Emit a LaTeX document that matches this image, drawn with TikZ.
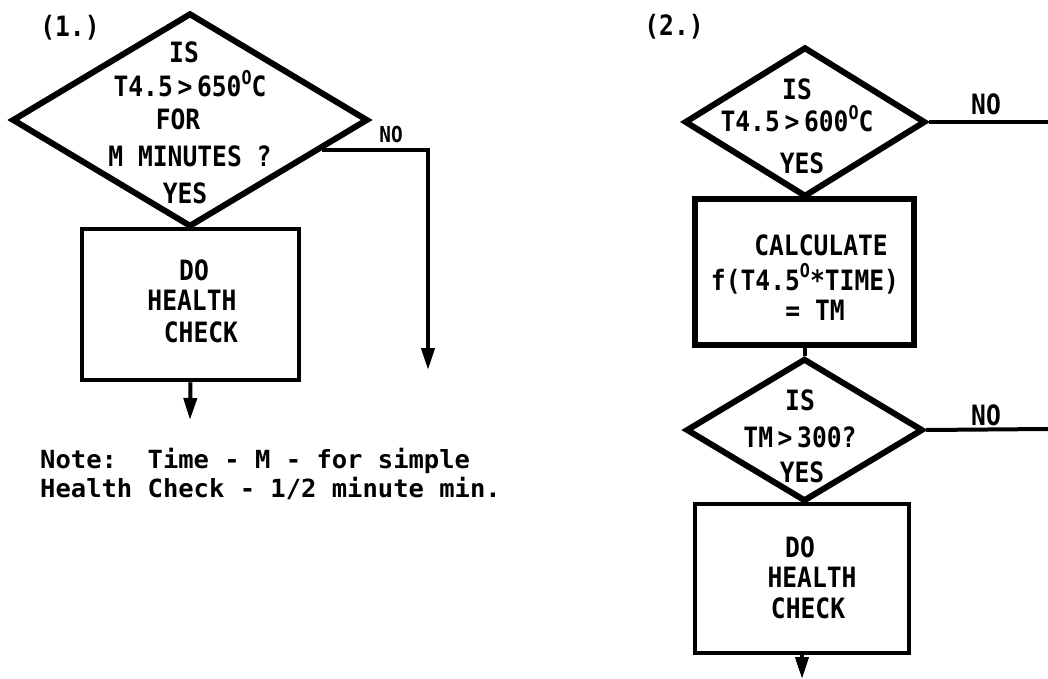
\documentclass[tikz,border=0pt]{standalone}
\usepackage{fontspec}
\newfontfamily\twf[FakeStretch=0.88]{DejaVu Sans Mono Bold}
\newfontfamily\twn[FakeStretch=1.02]{DejaVu Sans Mono Bold}
\usetikzlibrary{shapes.geometric,arrows.meta,calc}
\newcommand{\dgr}{\raisebox{0.45em}{\fontsize{19}{19}\selectfont O}}
\tikzset{
  dia/.style={draw, shape=diamond, inner sep=0pt, line width=6pt},
  box/.style={draw, rectangle, inner sep=0pt, line width=4.5pt},
  lbl/.style={font=\twf\fontsize{28}{30}\selectfont, inner sep=0pt, anchor=base},
  nlbl/.style={font=\twn\fontsize{25}{27}\selectfont, inner sep=0pt, anchor=base west},
  conn/.style={line width=4pt},
  arr/.style={conn, -{Triangle[length=22pt,width=13pt]}}
}
\begin{document}
\begin{tikzpicture}[x=1pt,y=-1pt]
\useasboundingbox (0,0) rectangle (1048,679);

% ---------- (1.) ----------
\node[lbl] (t1) at (70,37) {(1.)};
\node[dia, minimum width=356pt, minimum height=214pt] (d1) at (190,120) {};
\node[lbl] (d1a) at (184,63) {IS};
\node[lbl] (d1b) at (190,97) {T4.5\,>\,650\dgr C};
\node[lbl] (d1c) at (178,130) {FOR};
\node[lbl] (d1d) at (190,167) {M MINUTES ?};
\node[lbl] (d1e) at (185,203) {YES};
\node[lbl, font=\twf\fontsize{22}{24}\selectfont] (no1) at (391,143) {NO};

\node[box, minimum width=217pt, minimum height=151pt] (b1) at (190.5,304.5) {};
\node[lbl] (b1a) at (194,280) {DO};
\node[lbl] (b1b) at (192,310) {HEALTH};
\node[lbl] (b1c) at (201,342) {CHECK};

\coordinate (n1) at (428,370);
\coordinate (o1) at (190,420);
\draw[arr] ($(d1.east)!0.27!(d1.south)$) -| (n1);
\draw[arr] (b1.south) -- (o1);

\node[nlbl] (note1) at (40,468) {Note:\ \ Time - M - for simple};
\node[nlbl] (note2) at (40,497) {Health Check - 1/2 minute min.};

% ---------- (2.) ----------
\node[lbl] (t2) at (674,36) {(2.)};
\node[dia, minimum width=241pt, minimum height=150pt] (d2) at (805,122) {};
\node[lbl] (d2a) at (797,100) {IS};
\node[lbl] (d2b) at (797,132) {T4.5\,>\,600\dgr C};
\node[lbl] (d2c) at (802,173) {YES};
\node[lbl] (no2) at (986,115) {NO};
\coordinate (x2) at (1048,122);
\draw[conn] (d2.east) -- (x2);

\node[box, line width=6pt, minimum width=219pt, minimum height=146pt] (b2) at (804.5,272) {};
\node[lbl] (b2a) at (821,255) {CALCULATE};
\node[lbl] (b2b) at (805,290) {f(T4.5\dgr*TIME)};
\node[lbl] (b2c) at (815,320) {= TM};

\node[dia, minimum width=237pt, minimum height=143pt] (d3) at (804.5,430) {};
\draw[conn] (b2.south) -- (d3.north);
\node[lbl] (d3a) at (800,410) {IS};
\node[lbl] (d3b) at (800,447) {TM\,>\,300?};
\node[lbl] (d3c) at (802,482) {YES};
\node[lbl] (no3) at (986,425) {NO};
\coordinate (x3) at (1048,429);
\draw[conn] (d3.east) -- (x3);

\node[box, minimum width=214pt, minimum height=149pt] (b3) at (802,578.5) {};
\node[lbl] (b3a) at (800,557) {DO};
\node[lbl] (b3b) at (812,587) {HEALTH};
\node[lbl] (b3c) at (808,618) {CHECK};
\coordinate (o3) at (802,679);
\draw[arr] (b3.south) -- (o3);
\end{tikzpicture}
\end{document}
